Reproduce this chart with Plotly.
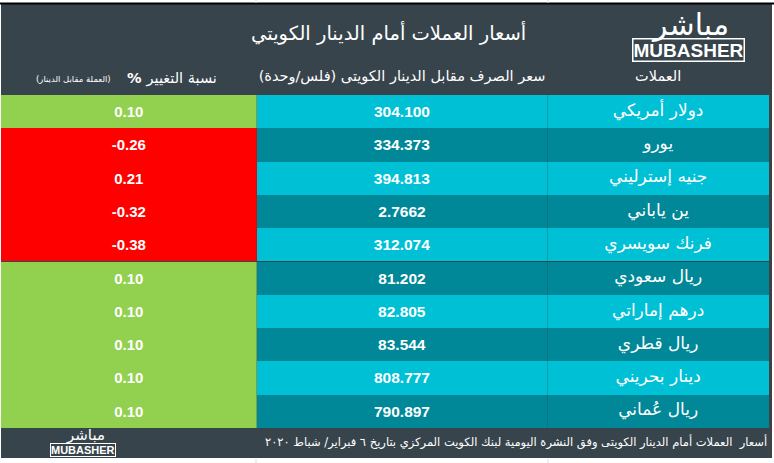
import plotly.graph_objects as go

# ---------------- data ----------------
currencies = ["دولار أمريكي", "يورو", "جنيه إسترليني", "ين ياباني", "فرنك سويسري",
              "ريال سعودي", "درهم إماراتي", "ريال قطري", "دينار بحريني", "ريال عُماني"]
rates = ["304.100", "334.373", "394.813", "2.7662", "312.074",
         "81.202", "82.805", "83.544", "808.777", "790.897"]
changes = [0.10, -0.26, 0.21, -0.32, -0.38, 0.10, 0.10, 0.10, 0.10, 0.10]

header_change_main = "<b>% </b>نسبة التغيير"
header_change_note = "\u200f(العملة مقابل الدينار)\u200f"
header_rate = "\u200fسعر الصرف مقابل الدينار الكويتى (فلس/وحدة)\u200f"
header_currency = "العملات"
title_text = "أسعار العملات أمام الدينار الكويتي"
footer_text = "\u200fأسعار  العملات أمام الدينار الكويتى وفق النشرة اليومية لبنك الكويت المركزي بتاريخ ٦ فبراير/ شباط ٢٠٢٠"

# ---------------- styles ----------------
W, H = 774, 463
DARK = "#37444c"
GREEN = "#92d050"
RED = "#ff0000"
TEAL_L = "#00c0d6"
TEAL_D = "#008898"
change_fill = [GREEN, RED, RED, RED, RED, GREEN, GREEN, GREEN, GREEN, GREEN]
row_fill = [TEAL_L if i % 2 == 0 else TEAL_D for i in range(len(currencies))]

AR = "DejaVu Sans"
NUM = "Liberation Sans"


def px(x):
    return x / W


def py(y):
    return 1 - y / H


def nowrap(s):
    return s.replace(" ", "\u00a0")


fig = go.Figure()
fig.add_trace(go.Table(
    domain=dict(x=[px(1), px(770)], y=[py(458), py(62)]),
    columnwidth=[256, 291, 222],
    header=dict(
        values=["", nowrap(header_rate), header_currency],
        fill_color=DARK,
        line=dict(width=0, color=DARK),
        align="center",
        height=33,
        font=dict(family=AR, size=14.5, color="white"),
    ),
    cells=dict(
        values=[["<b>%.2f</b>" % c for c in changes],
                ["<b>%s</b>" % r for r in rates],
                [nowrap(c) for c in currencies]],
        fill_color=[change_fill, row_fill, row_fill],
        line=dict(width=0, color=[change_fill, row_fill, row_fill]),
        align="center",
        height=33.3,
        font=dict(family=[NUM, NUM, AR], size=[15, 15.5, 17], color="white"),
    ),
))

shapes = [
    # dark panel
    dict(type="rect", xref="paper", yref="paper", x0=px(1), x1=px(770), y0=py(458), y1=py(4),
         fillcolor=DARK, line=dict(width=0), layer="below"),
    # top black border
    dict(type="line", xref="paper", yref="paper", x0=px(0), x1=px(774), y0=py(3.5), y1=py(3.5),
         line=dict(color="black", width=2)),
    # right black border
    dict(type="line", xref="paper", yref="paper", x0=px(771), x1=px(771), y0=py(458), y1=py(3),
         line=dict(color="black", width=1.5)),
    # faint grid lines of the surrounding page
    dict(type="line", xref="paper", yref="paper", x0=px(256), x1=px(256), y0=py(0), y1=py(3),
         line=dict(color="#dddddd", width=1)),
    dict(type="line", xref="paper", yref="paper", x0=px(548), x1=px(548), y0=py(0), y1=py(3),
         line=dict(color="#dddddd", width=1)),
    dict(type="line", xref="paper", yref="paper", x0=px(256), x1=px(256), y0=py(459), y1=py(463),
         line=dict(color="#dddddd", width=1)),
    dict(type="line", xref="paper", yref="paper", x0=px(548), x1=px(548), y0=py(459), y1=py(463),
         line=dict(color="#dddddd", width=1)),
]

annotations = [
    dict(text=title_text, x=px(388), y=py(33), xref="paper", yref="paper", showarrow=False,
         font=dict(family=AR, size=19.5, color="white"), xanchor="center", yanchor="middle"),
    dict(text=header_change_main, x=px(219), y=py(78), xref="paper", yref="paper", showarrow=False,
         font=dict(family=AR, size=14.5, color="white"), xanchor="right", yanchor="middle"),
    dict(text=header_change_note, x=px(113), y=py(79), xref="paper", yref="paper", showarrow=False,
         font=dict(family=AR, size=8.5, color="white"), xanchor="right", yanchor="middle"),
    dict(text=footer_text, x=px(769), y=py(442), xref="paper", yref="paper", showarrow=False,
         font=dict(family=AR, size=11.5, color="white"), xanchor="right", yanchor="middle"),
    # header logo
    dict(text="مباشر", x=px(690), y=py(25), xref="paper", yref="paper", showarrow=False,
         font=dict(family=AR, size=30, color="white"), xanchor="center", yanchor="middle"),
    dict(text="<b>MUBASHER</b>", x=px(688), y=py(50), xref="paper", yref="paper", showarrow=False,
         font=dict(family=NUM, size=19, color="white"), borderpad=0,
         bordercolor="white", borderwidth=1.5, xanchor="center", yanchor="middle"),
    # footer logo
    dict(text="مباشر", x=px(85), y=py(435), xref="paper", yref="paper", showarrow=False,
         font=dict(family=AR, size=15, color="white"), xanchor="center", yanchor="middle"),
    dict(text="<b>MUBASHER</b>", x=px(83), y=py(450), xref="paper", yref="paper", showarrow=False,
         font=dict(family=NUM, size=11, color="white"), borderpad=0,
         bordercolor="white", borderwidth=1, xanchor="center", yanchor="middle"),
]

fig.update_layout(
    width=W, height=H,
    margin=dict(l=0, r=0, t=0, b=0),
    paper_bgcolor="white",
    shapes=shapes,
    annotations=annotations,
    showlegend=False,
)

fig.write_html("out.html", config={"displayModeBar": False},
               post_script="document.body.style.margin='0';")
